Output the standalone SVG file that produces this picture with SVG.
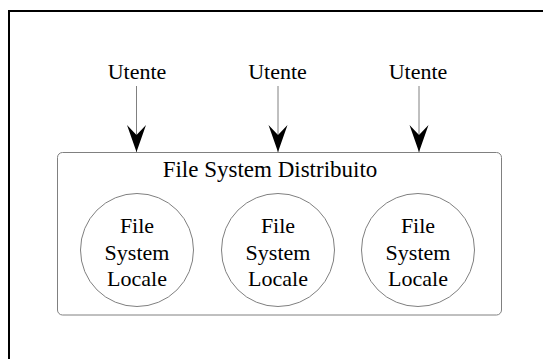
<svg xmlns="http://www.w3.org/2000/svg" width="543" height="359" viewBox="0 0 543 359">
  <style>
    .txt { font-family: "Liberation Serif", "Times New Roman", serif; font-size: 22px; fill: #000; text-anchor: middle; }
    .title { font-size: 23px; }
    .edge { stroke: #808080; stroke-width: 1; fill: none; }
    .shape { stroke: #808080; stroke-width: 1; fill: #fff; }
  </style>
  <defs>
    <!-- barbed arrowhead, drawn pointing along +x so orient="auto" aligns it with the line -->
    <marker id="head" markerUnits="userSpaceOnUse" markerWidth="28" markerHeight="20" refX="27" refY="10" orient="auto" viewBox="0 0 28 20">
      <path d="M27,10 L0,0.5 L10,10 L0,19.5 Z" fill="#000"/>
    </marker>
  </defs>
  <rect width="543" height="359" fill="#fff"/>
  <!-- page frame -->
  <rect x="9" y="11" width="600" height="420" fill="none" stroke="#000" stroke-width="2"/>

  <g id="dfs">
    <rect class="shape" x="57.5" y="152.5" width="444" height="162.5" rx="5"/>
    <text class="txt title" x="270" y="176.5">File System Distribuito</text>
  </g>

  <g id="fs1">
    <circle class="shape" cx="137" cy="250" r="56.5"/>
    <text class="txt" x="137" y="233">File</text>
    <text class="txt" x="137" y="259.5">System</text>
    <text class="txt" x="137" y="286">Locale</text>
  </g>
  <g id="fs2">
    <circle class="shape" cx="278" cy="250" r="56.5"/>
    <text class="txt" x="278" y="233">File</text>
    <text class="txt" x="278" y="259.5">System</text>
    <text class="txt" x="278" y="286">Locale</text>
  </g>
  <g id="fs3">
    <circle class="shape" cx="418" cy="250" r="56.5"/>
    <text class="txt" x="418" y="233">File</text>
    <text class="txt" x="418" y="259.5">System</text>
    <text class="txt" x="418" y="286">Locale</text>
  </g>

  <g id="user1"><text class="txt" x="137" y="79">Utente</text></g>
  <g id="user2"><text class="txt" x="277.5" y="79">Utente</text></g>
  <g id="user3"><text class="txt" x="418" y="79">Utente</text></g>

  <g id="connectors">
    <line class="edge" x1="136.5" y1="86" x2="136.5" y2="152" marker-end="url(#head)"/>
    <line class="edge" x1="278" y1="86" x2="278" y2="152" marker-end="url(#head)"/>
    <line class="edge" x1="419" y1="86" x2="419" y2="152" marker-end="url(#head)"/>
  </g>
</svg>
